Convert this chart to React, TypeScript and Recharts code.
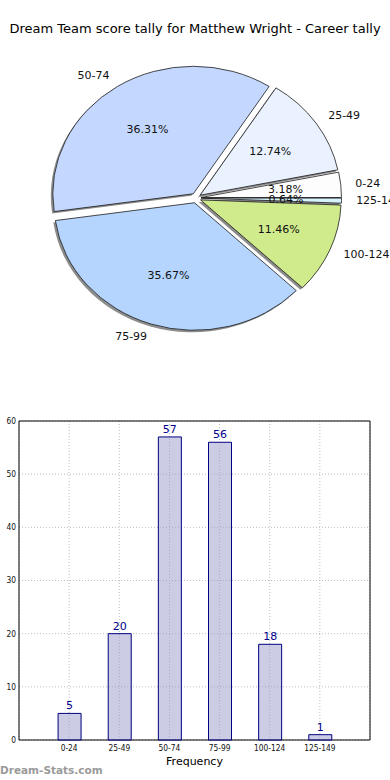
import { PieChart, Pie, Cell, BarChart, Bar, XAxis, YAxis, CartesianGrid, LabelList, ReferenceArea } from 'recharts';

const categories = ['0-24', '25-49', '50-74', '75-99', '100-124', '125-149'];
const frequency = [5, 20, 57, 56, 18, 1];
const sliceColors = ['#fdfdfd', '#eaf1ff', '#c4d8ff', '#b5d5ff', '#d0eb8c', '#d6f3ff'];
const yTicks = [0, 10, 20, 30, 40, 50, 60];

// slot 1..6 on a 0..7 axis, so there is half a slot of room at each side like the original
const data = categories.map((name, i) => ({ name, slot: i + 1, value: frequency[i], color: sliceColors[i] }));
const slotTicks = data.map((d) => d.slot);

// the original pie is slightly squashed vertically and every slice is pulled out
const SQUASH = 127.5 / 140.5;
const EXPLODE = 5;
const RAD = Math.PI / 180;

const slicePath = (p: any, dx = 0, dy = 0) => {
  const { cx, cy, outerRadius: r, startAngle: a0, endAngle: a1 } = p;
  const mid = (a0 + a1) / 2;
  const ox = cx + EXPLODE * Math.cos(mid * RAD) + dx;
  const oy = cy - EXPLODE * Math.sin(mid * RAD) + dy;
  const px = (a: number) => ox + r * Math.cos(a * RAD);
  const py = (a: number) => oy - r * SQUASH * Math.sin(a * RAD);
  const large = Math.abs(a1 - a0) > 180 ? 1 : 0;
  return `M${ox},${oy} L${px(a0)},${py(a0)} A${r},${r * SQUASH} 0 ${large} 0 ${px(a1)},${py(a1)} Z`;
};

const ShadowSlice = (p: any) => <path d={slicePath(p, -2, 2)} fill="#8c8c8c" />;
const Slice = (p: any) => <path d={slicePath(p)} fill={p.fill} stroke="#1a1a1a" strokeWidth={0.8} />;

const renderLabel = (p: any) => {
  const { cx, cy, midAngle, outerRadius: r, percent, index } = p;
  const c = Math.cos(midAngle * RAD);
  const s = Math.sin(midAngle * RAD);
  return (
    <g>
      <text x={cx + 0.64 * r * c} y={cy - 0.64 * r * SQUASH * s} textAnchor="middle" dominantBaseline="central" fontSize={11} fill="#111">
        {(percent * 100).toFixed(2)}%
      </text>
      <text x={cx + 1.14 * r * c} y={cy - 1.14 * r * SQUASH * s} textAnchor={c >= 0 ? 'start' : 'end'} dominantBaseline="central" fontSize={11} fill="#111">
        {categories[index]}
      </text>
    </g>
  );
};

const tickStyle = { fontSize: 8.3, fill: '#111', fontFamily: 'DejaVu Sans Condensed' };

export default function App() {
  return (
    <div style={{ position: 'absolute', left: 0, top: 0, width: 390, height: 780, background: '#fff', fontFamily: 'DejaVu Sans', overflow: 'hidden' }}>
      <div style={{ position: 'absolute', left: 0, top: 21, width: 390, textAlign: 'center', fontSize: 13, color: '#000', whiteSpace: 'nowrap' }}>
        Dream Team score tally for Matthew Wright - Career tally
      </div>

      <div style={{ position: 'absolute', left: 0, top: 0 }}>
        <PieChart width={390} height={390} margin={{ top: 0, right: 0, bottom: 0, left: 0 }}>
          <Pie data={data} dataKey="value" cx={196} cy={198} outerRadius={140.5} startAngle={0} endAngle={360}
            shape={ShadowSlice} activeShape={ShadowSlice} stroke="none" isAnimationActive={false} />
          <Pie data={data} dataKey="value" cx={196} cy={198} outerRadius={140.5} startAngle={0} endAngle={360}
            shape={Slice} activeShape={Slice} label={renderLabel} labelLine={false} isAnimationActive={false}>
            {data.map((d, i) => (
              <Cell key={`slice-${i}`} fill={d.color} />
            ))}
          </Pie>
        </PieChart>
      </div>

      <div style={{ position: 'absolute', left: 0, top: 400 }}>
        <BarChart width={390} height={380} data={data} margin={{ top: 21, right: 20, left: 0, bottom: 0 }}>
          <CartesianGrid stroke="#bdbdbd" strokeDasharray="1 2" />
          <XAxis type="number" dataKey="slot" domain={[0, 7]} ticks={slotTicks} tickFormatter={(v: number) => categories[v - 1]}
            axisLine={false} tickLine={false} tickSize={3} tickMargin={2} height={40} interval={0} tick={tickStyle}
            label={{ value: 'Frequency', position: 'insideBottom', offset: 15, fontSize: 11, fill: '#000' }} />
          <YAxis width={19} domain={[0, 60]} ticks={yTicks} axisLine={false} tickLine={false} tickSize={3} tickMargin={0} tick={tickStyle} />
          <Bar dataKey="value" barSize={23} fill="#9999cc" fillOpacity={0.5} stroke="#000080" strokeWidth={1} isAnimationActive={false}>
            <LabelList dataKey="value" position="top" offset={4} fill="#00008b" fontSize={11} />
          </Bar>
          <ReferenceArea x1={0} x2={7} y1={0} y2={60} fill="none" stroke="#000" strokeWidth={1} ifOverflow="visible" />
        </BarChart>
      </div>

      <div style={{ position: 'absolute', left: 0, top: 764, fontSize: 10.5, fontWeight: 'bold', color: '#9a9a9a' }}>
        Dream-Stats.com
      </div>
    </div>
  );
}
